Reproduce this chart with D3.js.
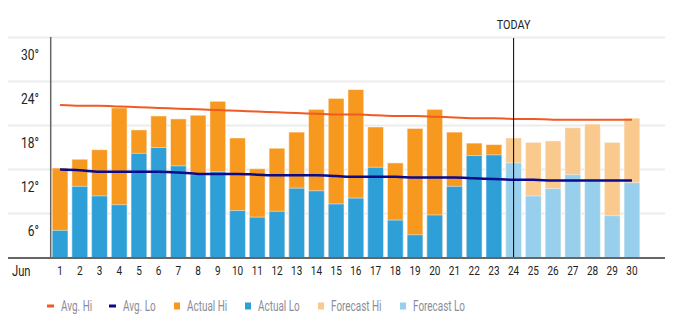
<!DOCTYPE html>
<html>
<head>
<meta charset="utf-8">
<script src="https://cdn.jsdelivr.net/npm/d3@7"></script>
<style>
  body { margin: 0; background: #fff; }
  text { font-family: "Roboto", "Liberation Sans", sans-serif; }
</style>
</head>
<body>
<div id="wrapper"></div>
<script>
const days = d3.range(1, 31);
const todayDay = 24;
const actualHi = [12.2, 13.4, 14.7, 20.4, 17.4, 19.3, 18.9, 19.4, 21.3, 16.3, 12.1, 14.9, 17.1, 20.2, 21.7, 22.9, 17.8, 12.9, 17.6, 20.2, 17.1, 15.6, 15.4];
const actualLo = [3.7, 9.7, 8.4, 7.2, 14.2, 15.0, 12.5, 11.3, 11.7, 6.4, 5.5, 6.3, 9.45, 9.1, 7.3, 8.1, 12.3, 5.1, 3.1, 5.8, 9.7, 13.9, 14.0];
const forecastHi = [16.3, 15.7, 15.9, 17.7, 18.2, 15.7, 19.0];
const forecastLo = [12.9, 8.4, 9.4, 11.3, 10.4, 5.7, 10.2];
const avgHi = [20.8, 20.7, 20.7, 20.6, 20.5, 20.4, 20.3, 20.2, 20.1, 20.0, 19.9, 19.8, 19.7, 19.6, 19.5, 19.5, 19.4, 19.3, 19.3, 19.2, 19.1, 19.0, 19.0, 18.9, 18.9, 18.8, 18.8, 18.8, 18.8, 18.8];
const avgLo = [12.0, 11.9, 11.7, 11.7, 11.7, 11.7, 11.6, 11.4, 11.4, 11.4, 11.3, 11.2, 11.2, 11.2, 11.1, 11.0, 11.0, 11.0, 10.9, 10.9, 10.9, 10.8, 10.7, 10.6, 10.6, 10.5, 10.5, 10.5, 10.5, 10.5];
const yTicks = [6, 12, 18, 24, 30];
const legendItems = [
    { label: "Avg. Hi", color: "#f05a24", type: "line" },
    { label: "Avg. Lo", color: "#0a0a8f", type: "line" },
    { label: "Actual Hi", color: "#f7981f", type: "rect" },
    { label: "Actual Lo", color: "#2f9fd8", type: "rect" },
    { label: "Forecast Hi", color: "#f9c98d", type: "rect" },
    { label: "Forecast Lo", color: "#98cfec", type: "rect" }
];

const colors = {
    actualHi: "#f7981f", actualLo: "#2f9fd8",
    forecastHi: "#f9c98d", forecastLo: "#98cfec",
    avgHi: "#f05a24", avgLo: "#0a0a8f"
};

// squeeze text horizontally to look like the condensed face
const squeeze = 0.8;

const bars = days.map((d, i) => {
    const isActual = i < actualHi.length;
    return {
        day: d,
        hi: isActual ? actualHi[i] : forecastHi[i - actualHi.length],
        lo: isActual ? actualLo[i] : forecastLo[i - actualHi.length],
        actual: isActual
    };
});

const dims = { width: 674, height: 326 };

const svg = d3.select("#wrapper")
    .append("svg")
    .attr("width", dims.width)
    .attr("height", dims.height);

const xScale = d3.scaleBand()
    .domain(days)
    .range([50.2, 641.8])
    .paddingInner(0.2)
    .paddingOuter(0.1);

const yScale = d3.scaleLinear()
    .domain([0, 30])
    .range([257.5, 37.5]);

// grid
svg.append("g")
    .selectAll("line")
    .data(yTicks)
    .join("line")
    .attr("x1", 8)
    .attr("x2", 665)
    .attr("y1", d => yScale(d))
    .attr("y2", d => yScale(d))
    .attr("stroke", "#ececec")
    .attr("stroke-width", 2);

// y labels (sit below the gridline)
svg.append("g")
    .selectAll("text")
    .data(yTicks)
    .join("text")
    .attr("transform", d => `translate(39, ${yScale(d) + 22}) scale(${squeeze},1)`)
    .attr("text-anchor", "end")
    .attr("font-size", 15)
    .attr("fill", "#222")
    .text(d => d + "°");

// bars
const barG = svg.append("g");
barG.selectAll(".hi")
    .data(bars)
    .join("rect")
    .attr("x", d => xScale(d.day))
    .attr("width", xScale.bandwidth())
    .attr("y", d => yScale(d.hi))
    .attr("height", d => yScale(0) - yScale(d.hi))
    .attr("fill", d => d.actual ? colors.actualHi : colors.forecastHi)
    .attr("stroke", "#fff")
    .attr("stroke-opacity", 0.5)
    .attr("stroke-width", 1);

barG.selectAll(".lo")
    .data(bars)
    .join("rect")
    .attr("x", d => xScale(d.day))
    .attr("width", xScale.bandwidth())
    .attr("y", d => yScale(d.lo))
    .attr("height", d => yScale(0) - yScale(d.lo))
    .attr("fill", d => d.actual ? colors.actualLo : colors.forecastLo)
    .attr("stroke", "#fff")
    .attr("stroke-opacity", 0.5)
    .attr("stroke-width", 1);

// avg lines
const xCenter = d => xScale(d) + xScale.bandwidth() / 2;
const line = arr => d3.line()
    .x((v, i) => xCenter(days[i]))
    .y(v => yScale(v))
    .curve(d3.curveMonotoneX)(arr);

svg.append("path")
    .attr("d", line(avgHi))
    .attr("fill", "none")
    .attr("stroke", colors.avgHi)
    .attr("stroke-width", 2);

svg.append("path")
    .attr("d", line(avgLo))
    .attr("fill", "none")
    .attr("stroke", colors.avgLo)
    .attr("stroke-width", 2.5);

// today marker
const todayX = xCenter(todayDay);
svg.append("line")
    .attr("x1", todayX).attr("x2", todayX)
    .attr("y1", 38).attr("y2", yScale(0))
    .attr("stroke", "#000")
    .attr("stroke-width", 1);
svg.append("text")
    .attr("transform", `translate(${todayX}, 29) scale(0.9,1)`)
    .attr("text-anchor", "middle")
    .attr("font-size", 12)
    .attr("fill", "#222")
    .text("TODAY");

// y axis line
svg.append("line")
    .attr("x1", 50.7).attr("x2", 50.7)
    .attr("y1", 37).attr("y2", yScale(0))
    .attr("stroke", "#666")
    .attr("stroke-width", 1.5);

const xAxisGenerator = d3.axisBottom(xScale)
    .tickSize(0)
    .tickPadding(9);

const xAxis = svg.append("g")
    .attr("transform", `translate(0, ${yScale(0)})`)
    .call(xAxisGenerator);
xAxis.select(".domain").remove();
xAxis.selectAll("text")
    .attr("font-size", 12.5)
    .attr("fill", "#222")
    .attr("transform", `scale(${squeeze},1)`)
    .style("font-family", "Roboto, sans-serif");

svg.append("line")
    .attr("x1", 8).attr("x2", 665)
    .attr("y1", yScale(0) + 0.5).attr("y2", yScale(0) + 0.5)
    .attr("stroke", "#666")
    .attr("stroke-width", 2);

svg.append("text")
    .attr("transform", `translate(12, 276) scale(${squeeze},1)`)
    .attr("font-size", 14)
    .attr("fill", "#222")
    .text("Jun");

// legend
const legendX = [47, 109, 174, 245, 318, 400];
const legend = svg.append("g")
    .selectAll("g")
    .data(legendItems)
    .join("g")
    .attr("transform", (d, i) => `translate(${legendX[i]}, 306)`);

legend.filter(d => d.type === "line")
    .append("rect")
    .attr("x", 0).attr("y", -1.5)
    .attr("width", 7).attr("height", 3)
    .attr("fill", d => d.color);

legend.filter(d => d.type === "rect")
    .append("rect")
    .attr("x", 0).attr("y", -3.5)
    .attr("width", 6).attr("height", 7)
    .attr("fill", d => d.color);

legend.append("text")
    .attr("transform", d => `translate(${d.type === "line" ? 14 : 13}, 5) scale(0.71,1)`)
    .attr("font-size", 14)
    .attr("fill", "#8a8c99")
    .text(d => d.label);
</script>
</body>
</html>
